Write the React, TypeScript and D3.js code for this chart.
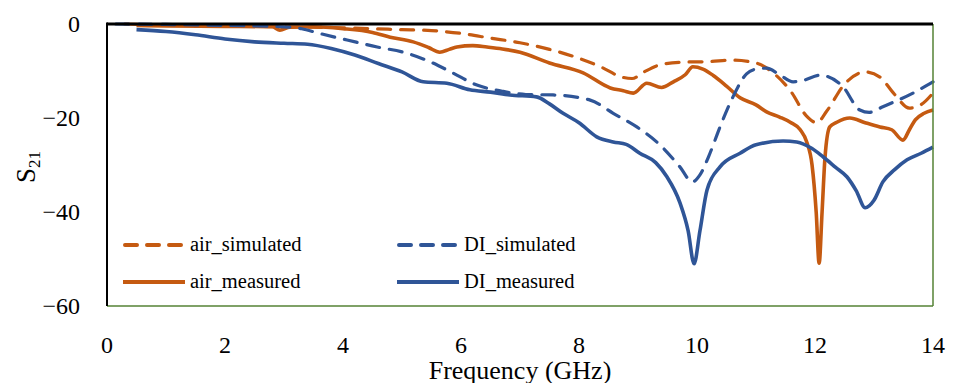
import React from "react";
import * as d3 from "d3";

const airSimF = [0.3, 1, 2, 3, 4, 4.5, 5, 5.5, 6, 6.5, 7, 7.5, 8, 8.4, 8.7, 8.9, 9.1, 9.4, 9.8, 10.2, 10.6, 11.0, 11.3, 11.6, 11.85, 12.03, 12.2, 12.5, 12.85, 13.1, 13.35, 13.6, 13.78, 14];
const airSimV = [0, -0.2, -0.4, -0.6, -0.8, -1.0, -1.2, -1.4, -2.0, -3.0, -4.0, -5.4, -7.3, -9.3, -11.2, -11.6, -10.2, -8.6, -8.1, -8.0, -7.7, -8.3, -10.5, -14.5, -19.5, -21, -18.5, -12.8, -10.2, -11.3, -15.0, -17.9, -17.3, -14.7];

const diSimF = [0.15, 1, 2, 3, 3.3, 3.6, 4.07, 4.58, 5.02, 5.47, 5.86, 6.27, 6.7, 7.1, 7.56, 8.19, 8.58, 8.98, 9.37, 9.71, 9.92, 10.05, 10.22, 10.39, 10.61, 10.84, 11.0, 11.18, 11.4, 11.63, 11.8, 12.08, 12.47, 12.76, 12.92, 13.15, 13.66, 14];
const diSimV = [0, -0.1, -0.3, -0.6, -1.0, -2.0, -3.4, -4.9, -6.0, -8.0, -10.4, -13.0, -14.3, -15.0, -15.1, -16.2, -19, -21.9, -25.7, -30.4, -33.6, -32.1, -27.5, -21.9, -15.5, -10.6, -9.6, -9.4, -10.8, -12.3, -12.0, -10.9, -13.3, -18.3, -18.8, -17.6, -14.7, -12.3];

const diMeasF = [0.5, 1, 1.5, 2, 2.5, 3, 3.4, 3.8, 4.2, 4.6, 5.0, 5.36, 5.76, 6.15, 6.5, 6.83, 7.28, 7.5, 7.73, 8.0, 8.3, 8.58, 8.8, 9.03, 9.3, 9.49, 9.71, 9.85, 9.95, 10.05, 10.17, 10.39, 10.73, 11.0, 11.46, 11.69, 11.95, 12.14, 12.35, 12.54, 12.7, 12.85, 13.0, 13.15, 13.35, 13.56, 13.8, 14];
const diMeasV = [-1.2, -1.6, -2.3, -3.2, -3.8, -4.1, -4.3, -5.2, -6.6, -8.4, -10.2, -12.3, -12.6, -14.0, -14.5, -15.1, -15.5, -17.0, -19.0, -21.0, -24.0, -25.1, -25.6, -27.5, -29.5, -32.5, -38, -44, -51, -44, -35.3, -30.4, -27.5, -25.7, -24.9, -25.1, -26.5, -28.3, -30.5, -32.5, -35.5, -39.1, -37.5, -33.6, -31, -28.9, -27.5, -26.2];

const airMeasF = [0.5, 1, 2, 2.8, 2.93, 3.1, 3.5, 4, 4.5, 4.8, 5.19, 5.45, 5.64, 5.8, 5.93, 6.2, 6.44, 6.7, 7.0, 7.5, 8.07, 8.53, 8.75, 8.92, 9.15, 9.4, 9.6, 9.8, 9.93, 10.1, 10.27, 10.5, 10.73, 11.0, 11.18, 11.4, 11.58, 11.75, 11.86, 11.95, 12.02, 12.07, 12.12, 12.17, 12.25, 12.37, 12.59, 12.85, 13.1, 13.3, 13.49, 13.6, 13.7, 13.85, 14];
const airMeasV = [-0.3, -0.4, -0.5, -0.6, -1.3, -0.7, -0.6, -1.0, -1.8, -2.8, -3.8, -5.0, -6.0, -5.4, -4.9, -4.6, -4.9, -5.3, -6.0, -8.3, -10.4, -13.6, -14.2, -14.7, -12.6, -13.5, -12.3, -10.8, -9.1, -9.6, -10.9, -13.2, -15.7, -17.2, -18.7, -19.8, -20.9, -22.5, -25.1, -30, -40, -50.9, -40, -28.3, -21.9, -20.9, -20.0, -21.0, -21.9, -22.5, -24.7, -22.5, -20.4, -19.0, -18.3];

const xTicks = [0, 2, 4, 6, 8, 10, 12, 14];
const yTicks = [0, -20, -40, -60];

const ORANGE = "#C55A11";
const BLUE = "#2F5597";
const GREEN = "#548235";
const FONT = "'Liberation Serif', 'DejaVu Serif', serif";

const series = [
  { name: "air_simulated", f: airSimF, v: airSimV, color: ORANGE, dashed: true },
  { name: "DI_simulated", f: diSimF, v: diSimV, color: BLUE, dashed: true },
  { name: "air_measured", f: airMeasF, v: airMeasV, color: ORANGE, dashed: false },
  { name: "DI_measured", f: diMeasF, v: diMeasV, color: BLUE, dashed: false },
];

export default function App() {
  const W = 954, H = 383;
  const L = 107, R = 933, T = 24, B = 306;
  const x = d3.scaleLinear().domain([0, 14]).range([L, R]);
  const y = d3.scaleLinear().domain([-60, 0]).range([B, T]);
  const line = d3.line<[number, number]>().x((d) => x(d[0])).y((d) => y(d[1])).curve(d3.curveMonotoneX);

  const drawOrder = [series[2], series[3], series[0], series[1]];
  const legendItems = [
    { s: series[0], lx: 123, ly: 245 },
    { s: series[1], lx: 397, ly: 245 },
    { s: series[2], lx: 123, ly: 282 },
    { s: series[3], lx: 397, ly: 282 },
  ];
  const ts = { fontFamily: FONT };

  return (
    <svg width={W} height={H} style={{ position: "absolute", left: 0, top: 0, background: "#fff" }}>
      <rect x={0} y={0} width={W} height={H} fill="#fff" />
      {drawOrder.map((s) => (
        <path
          key={s.name}
          d={line(s.f.map((f, i) => [f, s.v[i]] as [number, number])) || ""}
          fill="none"
          stroke={s.color}
          strokeWidth={s.dashed ? 3.2 : 3.6}
          strokeDasharray={s.dashed ? "13,10" : undefined}
          strokeLinecap={s.dashed ? "round" : "butt"}
          strokeLinejoin="round"
        />
      ))}
      <line x1={L} y1={B} x2={R} y2={B} stroke={GREEN} strokeWidth={1.5} />
      <line x1={R} y1={T} x2={R} y2={B} stroke={GREEN} strokeWidth={1.5} />
      <line x1={L} y1={T} x2={R} y2={T} stroke="#000" strokeWidth={3} />
      <line x1={L} y1={T - 1.5} x2={L} y2={B} stroke="#000" strokeWidth={2} />
      {yTicks.map((t) => (
        <text key={t} x={80} y={y(t) + 8} textAnchor="end" fontSize={24} fill="#000" style={ts}>
          {t === 0 ? "0" : "\u2212" + Math.abs(t)}
        </text>
      ))}
      {xTicks.map((t) => (
        <text key={t} x={x(t)} y={353} textAnchor="middle" fontSize={24} fill="#000" style={ts}>
          {t}
        </text>
      ))}
      <text x={520} y={379} textAnchor="middle" fontSize={26} fill="#000" style={ts}>
        Frequency (GHz)
      </text>
      <text transform={`translate(35,167) rotate(-90)`} textAnchor="middle" fontSize={27} fill="#000" style={ts}>
        S<tspan fontSize={17} dy={5}>21</tspan>
      </text>
      {legendItems.map(({ s, lx, ly }) => (
        <g key={s.name}>
          <line
            x1={lx + (s.dashed ? 2 : 0)}
            y1={ly}
            x2={lx + 62 - (s.dashed ? 2 : 0)}
            y2={ly}
            stroke={s.color}
            strokeWidth={4}
            strokeDasharray={s.dashed ? "12,10" : undefined}
            strokeLinecap={s.dashed ? "round" : "butt"}
          />
          <text x={lx + 67} y={ly + 6} fontSize={20.5} fill="#000" style={ts}>
            {s.name}
          </text>
        </g>
      ))}
    </svg>
  );
}
